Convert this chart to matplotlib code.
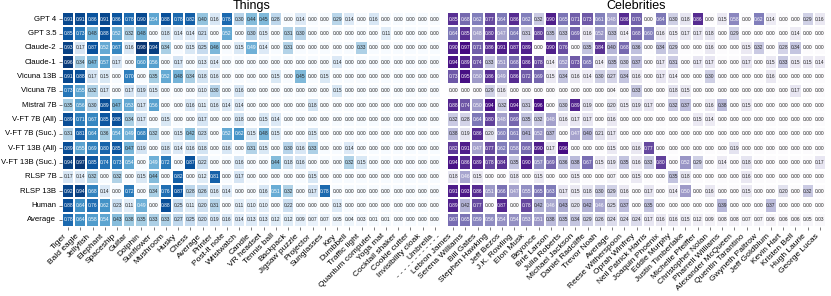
import pandas as pd
import matplotlib.pyplot as plt
import seaborn as sns

plt.rcParams['font.family'] = ['Liberation Sans', 'DejaVu Sans']

models = ['GPT 4', 'GPT 3.5', 'Claude-2', 'Claude-1', 'Vicuna 13B', 'Vicuna 7B', 'Mistral 7B',
          'V-FT 7B (All)', 'V-FT 7B (Suc.)', 'V-FT 13B (All)', 'V-FT 13B (Suc.)',
          'RLSP 7B', 'RLSP 13B', 'Human', 'Average']

things = ['Tiger', 'Bald eagle', 'Jellyfish', 'Elephant', 'Spaceship', 'Guitar', 'Dolphin',
          'Sunflower', 'Mushroom', 'Husky', 'Chess', 'Average', 'Printer', 'Post-it note',
          'Wristwatch', 'Candle', 'VR headset', 'Tennis ball', 'Backpack', 'Jigsaw puzzle',
          'Projector', 'Sunglasses', 'Key', 'Dumbbell', 'Traffic light', 'Quantum computer',
          'Yoga mat', 'Cocktail shaker', 'Cookie cutter', 'Invisibility cloak', 'Umbrella']

celebs = ['Lebron James', 'Serena Williams', 'Bill Gates', 'Stephen Hawking', 'Jeff Bezos',
          'J.K. Rowling', 'Elon Musk', 'Beyonce', 'Brie Larson', 'Julia Roberts',
          'Michael Jackson', 'Daniel Radcliffe', 'Trevor Noah', 'Average', 'Reese Witherspoon',
          'Oprah Winfrey', 'Neil Patrick Harris', 'Joaquin Phoenix', 'Eddie Murphy',
          'Justin Timberlake', 'Michelle Pfeiffer', 'Christopher Nolan', 'Pharrell Williams',
          'Alexander McQueen', 'Quentin Tarantino', 'Gwyneth Paltrow', 'Jeff Goldblum',
          'Kevin Hart', 'Kristen Bell', 'Hugh Laurie', 'George Lucas']

# success rates, one row per model (Things)
things_scores = [
    [0.91, 0.91, 0.86, 0.91, 0.86, 0.78, 0.90, 0.54, 0.88, 0.78, 0.82, 0.40, 0.16, 0.78, 0.30, 0.44, 0.45, 0.28, 0.00, 0.14, 0.00, 0.00, 0.29, 0.14, 0.00, 0.16, 0.00, 0.00, 0.00, 0.00, 0.00],
    [0.85, 0.73, 0.48, 0.88, 0.52, 0.32, 0.48, 0.00, 0.18, 0.14, 0.14, 0.21, 0.00, 0.52, 0.00, 0.30, 0.15, 0.00, 0.31, 0.30, 0.00, 0.00, 0.00, 0.00, 0.00, 0.00, 0.11, 0.00, 0.00, 0.00, 0.00],
    [0.93, 0.17, 0.87, 0.52, 0.67, 0.16, 0.98, 0.94, 0.34, 0.00, 0.15, 0.25, 0.46, 0.00, 0.15, 0.49, 0.14, 0.00, 0.31, 0.00, 0.00, 0.00, 0.00, 0.00, 0.33, 0.00, 0.00, 0.00, 0.00, 0.00, 0.00],
    [0.96, 0.34, 0.47, 0.57, 0.17, 0.00, 0.60, 0.56, 0.00, 0.17, 0.00, 0.13, 0.14, 0.00, 0.00, 0.00, 0.00, 0.00, 0.00, 0.00, 0.00, 0.00, 0.14, 0.00, 0.00, 0.00, 0.00, 0.00, 0.00, 0.00, 0.00],
    [0.91, 0.88, 0.17, 0.15, 0.00, 0.70, 0.00, 0.35, 0.52, 0.48, 0.34, 0.18, 0.16, 0.00, 0.00, 0.00, 0.00, 0.15, 0.00, 0.45, 0.00, 0.15, 0.00, 0.00, 0.00, 0.00, 0.00, 0.00, 0.00, 0.00, 0.00],
    [0.73, 0.55, 0.32, 0.17, 0.00, 0.17, 0.19, 0.15, 0.00, 0.00, 0.00, 0.10, 0.30, 0.00, 0.16, 0.00, 0.00, 0.00, 0.00, 0.00, 0.00, 0.00, 0.15, 0.00, 0.00, 0.00, 0.00, 0.00, 0.00, 0.00, 0.00],
    [0.35, 0.56, 0.30, 0.89, 0.47, 0.53, 0.17, 0.56, 0.00, 0.00, 0.16, 0.11, 0.16, 0.14, 0.14, 0.00, 0.00, 0.00, 0.00, 0.00, 0.18, 0.00, 0.00, 0.00, 0.00, 0.00, 0.00, 0.00, 0.00, 0.00, 0.00],
    [0.89, 0.71, 0.67, 0.85, 0.88, 0.34, 0.17, 0.00, 0.15, 0.00, 0.00, 0.17, 0.00, 0.00, 0.18, 0.00, 0.15, 0.14, 0.00, 0.00, 0.00, 0.00, 0.00, 0.00, 0.00, 0.00, 0.00, 0.00, 0.00, 0.00, 0.00],
    [0.31, 0.81, 0.64, 0.36, 0.54, 0.49, 0.68, 0.32, 0.00, 0.15, 0.42, 0.23, 0.00, 0.52, 0.62, 0.15, 0.48, 0.15, 0.00, 0.00, 0.15, 0.00, 0.00, 0.00, 0.00, 0.00, 0.00, 0.00, 0.00, 0.00, 0.00],
    [0.89, 0.55, 0.69, 0.80, 0.85, 0.47, 0.19, 0.00, 0.18, 0.14, 0.16, 0.18, 0.00, 0.16, 0.00, 0.31, 0.15, 0.00, 0.30, 0.16, 0.33, 0.00, 0.00, 0.14, 0.00, 0.00, 0.00, 0.00, 0.00, 0.00, 0.00],
    [0.94, 0.97, 0.85, 0.74, 0.73, 0.54, 0.00, 0.49, 0.72, 0.00, 0.87, 0.22, 0.00, 0.00, 0.16, 0.00, 0.00, 0.44, 0.18, 0.16, 0.00, 0.00, 0.00, 0.32, 0.15, 0.00, 0.00, 0.00, 0.00, 0.00, 0.00],
    [0.17, 0.14, 0.32, 0.00, 0.32, 0.00, 0.15, 0.44, 0.00, 0.82, 0.00, 0.12, 0.81, 0.00, 0.17, 0.00, 0.00, 0.00, 0.00, 0.00, 0.15, 0.00, 0.00, 0.00, 0.00, 0.00, 0.00, 0.00, 0.00, 0.00, 0.00],
    [0.92, 0.94, 0.68, 0.14, 0.00, 0.72, 0.00, 0.34, 0.76, 0.87, 0.28, 0.26, 0.16, 0.14, 0.00, 0.00, 0.16, 0.51, 0.32, 0.00, 0.17, 0.78, 0.00, 0.00, 0.00, 0.00, 0.00, 0.00, 0.00, 0.00, 0.00],
    [0.88, 0.64, 0.76, 0.62, 0.23, 0.11, 0.49, 0.00, 0.88, 0.25, 0.11, 0.20, 0.31, 0.00, 0.11, 0.10, 0.10, 0.00, 0.22, 0.00, 0.00, 0.00, 0.13, 0.00, 0.00, 0.00, 0.00, 0.00, 0.00, 0.00, 0.00],
    [0.78, 0.64, 0.58, 0.54, 0.43, 0.38, 0.35, 0.33, 0.33, 0.27, 0.25, 0.20, 0.19, 0.16, 0.14, 0.13, 0.13, 0.12, 0.12, 0.09, 0.07, 0.07, 0.05, 0.04, 0.03, 0.01, 0.01, 0.00, 0.00, 0.00, 0.00],
]

# success rates, one row per model (Celebrities)
celeb_scores = [
    [0.85, 0.68, 0.62, 0.77, 0.64, 0.86, 0.62, 0.32, 0.90, 0.65, 0.71, 0.73, 0.61, 0.48, 0.86, 0.70, 0.00, 0.64, 0.30, 0.18, 0.86, 0.00, 0.15, 0.58, 0.00, 0.62, 0.14, 0.00, 0.00, 0.29, 0.16],
    [0.64, 0.85, 0.48, 0.80, 0.47, 0.64, 0.31, 0.80, 0.35, 0.33, 0.69, 0.16, 0.52, 0.33, 0.14, 0.68, 0.60, 0.16, 0.15, 0.17, 0.17, 0.18, 0.00, 0.29, 0.00, 0.00, 0.00, 0.00, 0.14, 0.00, 0.00],
    [0.90, 0.97, 0.71, 0.86, 0.91, 0.87, 0.89, 0.00, 0.90, 0.76, 0.00, 0.35, 0.84, 0.40, 0.68, 0.36, 0.00, 0.34, 0.29, 0.00, 0.00, 0.16, 0.00, 0.00, 0.15, 0.32, 0.00, 0.28, 0.34, 0.00, 0.00],
    [0.94, 0.89, 0.74, 0.33, 0.51, 0.68, 0.86, 0.78, 0.14, 0.52, 0.73, 0.65, 0.14, 0.35, 0.30, 0.37, 0.00, 0.17, 0.31, 0.00, 0.17, 0.17, 0.00, 0.00, 0.17, 0.00, 0.15, 0.33, 0.15, 0.15, 0.14],
    [0.73, 0.95, 0.50, 0.86, 0.49, 0.86, 0.72, 0.69, 0.15, 0.34, 0.16, 0.14, 0.30, 0.27, 0.34, 0.16, 0.00, 0.17, 0.14, 0.00, 0.00, 0.30, 0.00, 0.00, 0.00, 0.00, 0.16, 0.00, 0.00, 0.00, 0.00],
    [0.00, 0.00, 0.00, 0.29, 0.16, 0.00, 0.00, 0.00, 0.00, 0.00, 0.00, 0.00, 0.00, 0.04, 0.00, 0.33, 0.00, 0.00, 0.18, 0.15, 0.00, 0.00, 0.00, 0.00, 0.00, 0.00, 0.00, 0.00, 0.17, 0.00, 0.00],
    [0.88, 0.74, 0.50, 0.94, 0.32, 0.94, 0.31, 0.96, 0.00, 0.30, 0.89, 0.19, 0.00, 0.20, 0.15, 0.19, 0.17, 0.00, 0.32, 0.37, 0.00, 0.16, 0.38, 0.00, 0.15, 0.00, 0.00, 0.00, 0.00, 0.00, 0.00],
    [0.32, 0.28, 0.64, 0.80, 0.48, 0.69, 0.35, 0.32, 0.48, 0.16, 0.17, 0.17, 0.00, 0.16, 0.00, 0.00, 0.00, 0.00, 0.00, 0.00, 0.15, 0.14, 0.00, 0.00, 0.00, 0.00, 0.00, 0.00, 0.00, 0.00, 0.00],
    [0.38, 0.19, 0.86, 0.20, 0.60, 0.61, 0.41, 0.52, 0.37, 0.00, 0.47, 0.40, 0.21, 0.17, 0.00, 0.00, 0.00, 0.00, 0.00, 0.00, 0.00, 0.00, 0.00, 0.00, 0.00, 0.00, 0.00, 0.00, 0.00, 0.00, 0.00],
    [0.82, 0.91, 0.47, 0.77, 0.62, 0.58, 0.68, 0.90, 0.17, 0.96, 0.00, 0.00, 0.00, 0.15, 0.00, 0.16, 0.77, 0.00, 0.00, 0.00, 0.00, 0.00, 0.00, 0.19, 0.00, 0.00, 0.00, 0.00, 0.00, 0.00, 0.00],
    [0.94, 0.86, 0.89, 0.78, 0.84, 0.35, 0.90, 0.57, 0.69, 0.36, 0.38, 0.67, 0.15, 0.19, 0.35, 0.16, 0.33, 0.80, 0.00, 0.52, 0.29, 0.00, 0.14, 0.00, 0.18, 0.00, 0.00, 0.00, 0.00, 0.00, 0.17],
    [0.18, 0.46, 0.15, 0.00, 0.00, 0.18, 0.00, 0.15, 0.00, 0.00, 0.15, 0.00, 0.00, 0.07, 0.00, 0.15, 0.00, 0.00, 0.35, 0.18, 0.00, 0.00, 0.00, 0.00, 0.16, 0.00, 0.00, 0.00, 0.00, 0.00, 0.00],
    [0.91, 0.93, 0.86, 0.51, 0.66, 0.47, 0.55, 0.65, 0.63, 0.17, 0.15, 0.18, 0.30, 0.29, 0.16, 0.00, 0.17, 0.00, 0.14, 0.50, 0.00, 0.16, 0.00, 0.00, 0.15, 0.00, 0.00, 0.20, 0.00, 0.32, 0.00],
    [0.89, 0.42, 0.77, 0.00, 0.87, 0.00, 0.78, 0.42, 0.46, 0.43, 0.20, 0.42, 0.46, 0.25, 0.37, 0.00, 0.35, 0.00, 0.00, 0.00, 0.00, 0.00, 0.39, 0.00, 0.00, 0.00, 0.37, 0.00, 0.00, 0.00, 0.00],
    [0.67, 0.65, 0.59, 0.56, 0.54, 0.54, 0.53, 0.51, 0.38, 0.35, 0.34, 0.29, 0.26, 0.24, 0.24, 0.24, 0.17, 0.16, 0.16, 0.15, 0.12, 0.09, 0.08, 0.08, 0.07, 0.07, 0.06, 0.06, 0.06, 0.05, 0.03],
]

things_df = pd.DataFrame(things_scores, index=models, columns=things)
celeb_df = pd.DataFrame(celeb_scores, index=models, columns=celebs)

W, H = 831, 296
fig = plt.figure(figsize=(W / 100, H / 100), dpi=100)
ax1 = fig.add_axes([62 / W, 69 / H, 379 / W, 215 / H])
ax2 = fig.add_axes([447 / W, 69 / H, 379 / W, 215 / H])

hm_kw = dict(vmin=0, vmax=1, annot=True, fmt='.2f', annot_kws={'size': 3.5},
             cbar=False, linewidths=0.3, linecolor='white', xticklabels=True)
sns.heatmap(things_df, cmap='Blues', ax=ax1, yticklabels=True, **hm_kw)
sns.heatmap(celeb_df, cmap='Purples', ax=ax2, yticklabels=False, **hm_kw)

for ax, title in [(ax1, 'Things'), (ax2, 'Celebrities')]:
    ax.set_title(title, fontsize=9, pad=2)
    ax.set_xticklabels(ax.get_xticklabels(), rotation=45, ha='right', fontsize=6)
    ax.tick_params(length=2.5, width=0.5, color='#444444', pad=1.5)
ax1.set_yticklabels(ax1.get_yticklabels(), rotation=0, fontsize=5.6)
ax2.tick_params(left=False)

# dashed divider between the two panels
fig.text(442 / W, 1 - 233 / H, ' -' * 12, rotation=45, ha='right', va='top', fontsize=6)

plt.savefig('out.png', dpi=100)
